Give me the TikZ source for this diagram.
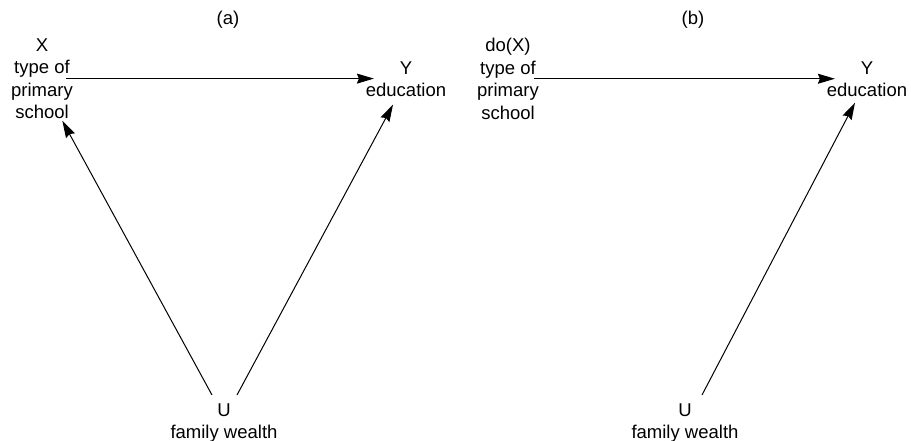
\documentclass[tikz,border=0pt]{standalone}
\usepackage{fontspec}
\setmainfont{Liberation Sans}
\usetikzlibrary{arrows.meta}
\begin{document}
\begin{tikzpicture}[x=1pt,y=-1pt,
  lbl/.style={inner sep=0pt,align=center,anchor=north,
    font=\fontsize{18.5}{22.5}\selectfont},
  ttl/.style={inner sep=0pt,font=\fontsize{18.5}{22.5}\selectfont},
  arr/.style={draw=black,line width=1pt,
    -{Stealth[length=17pt,width=10pt,inset=2pt]}}]
\useasboundingbox (0,0) rectangle (911,441);

% panel (a): confounded model
\node[ttl] (ta) at (228,20) {(a)};
\node[lbl] (Xa) at (42,38.2) {X\\type of\\primary\\school};
\node[lbl] (Ya) at (406,61.2) {Y\\education};
\node[lbl] (Ua) at (224,403.2) {U\\family wealth};

\draw[arr,shorten >=-8.2pt] ([xshift=-6.7pt]Xa.east) -- (Xa.east -| Ya.west);
\draw[arr] ([xshift=-12pt,yshift=8.2pt]Ua.north) -- ([xshift=-10.7pt,yshift=-1.8pt]Xa.south east);
\draw[arr] ([xshift=13pt,yshift=8.2pt]Ua.north) -- ([xshift=-13pt,yshift=-7.7pt]Ya.south);

% panel (b): after the intervention do(X)
\node[ttl] (tb) at (693,20) {(b)};
\node[lbl] (Xb) at (508,38) {do(X)\\type of\\primary\\school};
\node[lbl] (Yb) at (867,61.2) {Y\\education};
\node[lbl] (Ub) at (685,403.2) {U\\family wealth};

\draw[arr,shorten >=-8.2pt] ([xshift=-5.5pt]Xb.east) -- (Xb.east -| Yb.west);
\draw[arr] ([xshift=17pt,yshift=8.2pt]Ub.north) -- ([xshift=-12pt,yshift=-5.7pt]Yb.south);
\end{tikzpicture}
\end{document}
